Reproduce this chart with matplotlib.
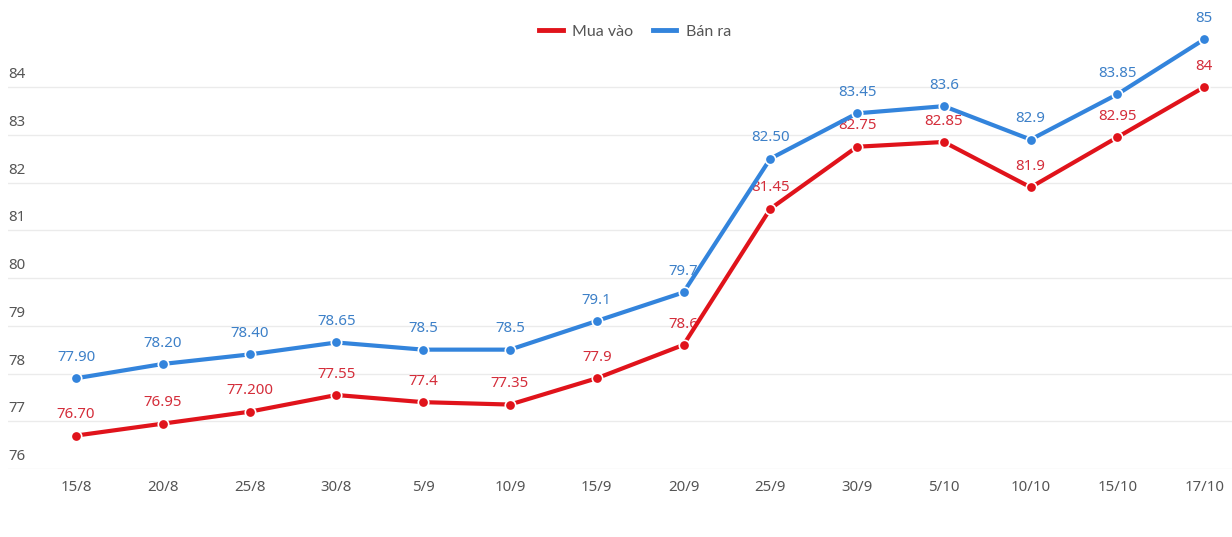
import matplotlib
matplotlib.use("Agg")
import matplotlib.pyplot as plt
from matplotlib.lines import Line2D

dates = ["15/8", "20/8", "25/8", "30/8", "5/9", "10/9", "15/9", "20/9",
         "25/9", "30/9", "5/10", "10/10", "15/10", "17/10"]
mua_vao = [76.70, 76.95, 77.20, 77.55, 77.4, 77.35, 77.9, 78.6,
           81.45, 82.75, 82.85, 81.9, 82.95, 84]
mua_labels = ["76.70", "76.95", "77.200", "77.55", "77.4", "77.35", "77.9", "78.6",
              "81.45", "82.75", "82.85", "81.9", "82.95", "84"]
ban_ra = [77.90, 78.20, 78.40, 78.65, 78.5, 78.5, 79.1, 79.7,
          82.50, 83.45, 83.6, 82.9, 83.85, 85]
ban_labels = ["77.90", "78.20", "78.40", "78.65", "78.5", "78.5", "79.1", "79.7",
              "82.50", "83.45", "83.6", "82.9", "83.85", "85"]
y_ticks = [76, 77, 78, 79, 80, 81, 82, 83, 84]

RED = "#e0131b"
BLUE = "#3384dc"
RED_TXT = "#d42d3a"
BLUE_TXT = "#3d80c8"

plt.rcParams['font.family'] = ['Noto Sans', 'DejaVu Sans']

fig = plt.figure(figsize=(12.32, 5.37), dpi=100)
ax = fig.add_axes([8 / 1232, 1 - 469 / 537, 1 - 8 / 1232, (469 - 25) / 537])

x = list(range(len(dates)))

for vals, labels, col, tcol in [(mua_vao, mua_labels, RED, RED_TXT),
                                (ban_ra, ban_labels, BLUE, BLUE_TXT)]:
    ax.plot(x, vals, color=col, lw=3, marker='o', ms=7.5, mfc=col,
            mec='white', mew=1.2, zorder=3, solid_capstyle='round')
    for xi, v, lab in zip(x, vals, labels):
        ax.annotate(lab, (xi, v), xytext=(0, 15), textcoords='offset points',
                    ha='center', va='center', fontsize=10.8, color=tcol, zorder=2)

ax.set_xlim(-0.784, 13.32)
ax.set_ylim(76, 85.3)

for v in y_ticks:
    ax.axhline(v, color='#ebebeb', lw=1, zorder=1)
    ax.annotate(str(v), (0, v), xycoords=ax.get_yaxis_transform(),
                xytext=(0, 3.5), textcoords='offset points',
                ha='left', va='bottom', fontsize=10.8, color='#555555')

ax.set_yticks([])
ax.set_xticks(x)
ax.set_xticklabels(dates, fontsize=10.8, color='#555555')
ax.tick_params(axis='x', length=0, pad=8)
for s in ax.spines.values():
    s.set_visible(False)

handles = [Line2D([], [], color=RED, lw=3.5),
           Line2D([], [], color=BLUE, lw=3.5)]
fig.legend(handles, ["Mua vào", "Bán ra"], loc='center', bbox_to_anchor=(635 / 1232, 1 - 32 / 537),
           ncol=2, frameon=False, handlelength=1.5, handletextpad=0.6, columnspacing=1.2,
           prop={'family': 'Lato', 'size': 11.5}, labelcolor='#555555')

fig.savefig("out.png", dpi=100, facecolor='white')
